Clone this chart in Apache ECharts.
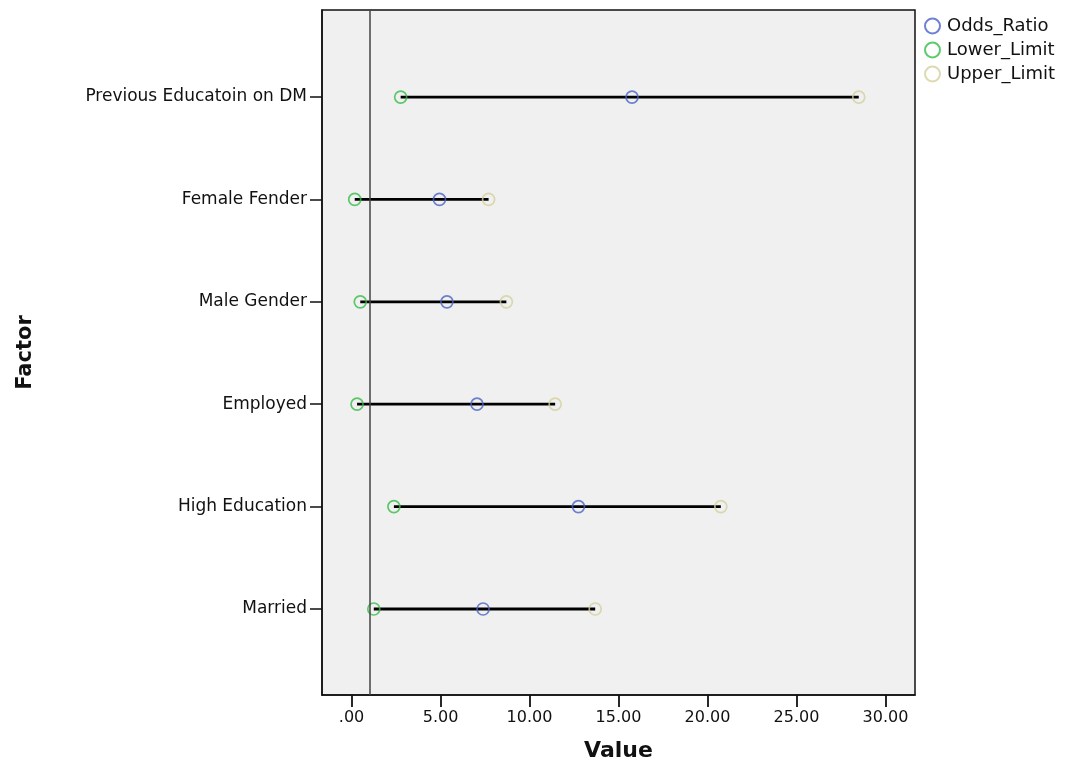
<!DOCTYPE html>
<html>
<head>
<meta charset="utf-8">
<script src="https://cdn.jsdelivr.net/npm/echarts@6/dist/echarts.min.js"></script>
<style>html,body{margin:0;padding:0;background:#fff;}#c{width:1065px;height:767px;}</style>
</head>
<body>
<div id="c"></div>
<script>
var categories = ['Previous Educatoin on DM','Female Fender','Male Gender','Employed','High Education','Married'];
var oddsRatio  = [15.76, 4.94, 5.36, 7.05, 12.75, 7.39];
var lowerLimit = [2.76, 0.18, 0.49, 0.31, 2.38, 1.25];
var upperLimit = [28.5, 7.70, 8.70, 11.44, 20.75, 13.69];
var xTicks = [0, 5, 10, 15, 20, 25, 30];
var refValue = 1;

function pts(arr){ return arr.map(function(v,i){ return [v,i]; }); }
var rangeData = categories.map(function(c,i){ return [lowerLimit[i], upperLimit[i], i]; });
var yTicks = categories.map(function(c,i){ return i; });

var font = '"DejaVu Sans", Arial, sans-serif';
var chart = echarts.init(document.getElementById('c'), null, {renderer:'canvas'});
var circ = function(color){
  return {color:'rgba(0,0,0,0)', borderColor:color, borderWidth:1.7};
};
chart.setOption({
  animation:false,
  backgroundColor:'#fff',
  grid:{left:322, right:150, top:10, bottom:71, show:true, backgroundColor:'#f0f0f0', borderColor:'#111', borderWidth:1.5},
  legend:{
    orient:'vertical', left:919, top:12, itemGap:6, itemWidth:17, itemHeight:15,
    icon:'circle',
    textStyle:{fontFamily:font, fontSize:18, color:'#111', padding:[0,0,0,1]},
    data:['Odds_Ratio','Lower_Limit','Upper_Limit']
  },
  xAxis:{
    type:'value', min:-1.66, max:31.66,
    name:'Value', nameLocation:'middle', nameGap:45,
    nameTextStyle:{fontFamily:font, fontSize:22, fontWeight:'bold', color:'#111'},
    axisLine:{show:true, onZero:false, lineStyle:{color:'#111', width:1.5}},
    axisTick:{show:true, inside:false, length:12, customValues:xTicks, lineStyle:{color:'#111', width:1.8}},
    axisLabel:{customValues:xTicks, fontFamily:font, fontSize:16, color:'#111', margin:15,
      formatter:function(v){ return v===0 ? '.00' : v.toFixed(2); }},
    splitLine:{show:false}
  },
  yAxis:{
    type:'value', inverse:true, min:-0.85, max:5.84,
    name:'Factor', nameLocation:'middle', nameGap:286, nameRotate:90,
    nameTextStyle:{fontFamily:font, fontSize:21, fontWeight:'bold', color:'#111'},
    axisLine:{show:true, onZero:false, lineStyle:{color:'#111', width:1.5}},
    axisTick:{show:true, length:12, customValues:yTicks, lineStyle:{color:'#111', width:1.5}},
    axisLabel:{customValues:yTicks, fontFamily:font, fontSize:17, color:'#111', margin:15, padding:[4,0,0,0],
      formatter:function(v){ return categories[Math.round(v)] || ''; }},
    splitLine:{show:false}
  },
  series:[
    {
      type:'custom', name:'range', z:2, silent:true,
      data:rangeData,
      renderItem:function(params, api){
        var a = api.coord([api.value(0), api.value(2)]);
        var b = api.coord([api.value(1), api.value(2)]);
        return {type:'line', shape:{x1:a[0], y1:a[1], x2:b[0], y2:b[1]}, style:{stroke:'#000', lineWidth:2.8}};
      },
      markLine:{
        silent:true, symbol:['none','none'], label:{show:false},
        lineStyle:{color:'#444', width:1.5, type:'solid'},
        data:[{xAxis:refValue}]
      }
    },
    {type:'scatter', name:'Odds_Ratio', data:pts(oddsRatio), symbol:'circle', symbolSize:12, z:3, itemStyle:circ('#4a63c6')},
    {type:'scatter', name:'Lower_Limit', data:pts(lowerLimit), symbol:'circle', symbolSize:12, z:3, itemStyle:circ('#36bd47')},
    {type:'scatter', name:'Upper_Limit', data:pts(upperLimit), symbol:'circle', symbolSize:12, z:3, itemStyle:circ('#d4cf9c')}
  ]
});
</script>
</body>
</html>
